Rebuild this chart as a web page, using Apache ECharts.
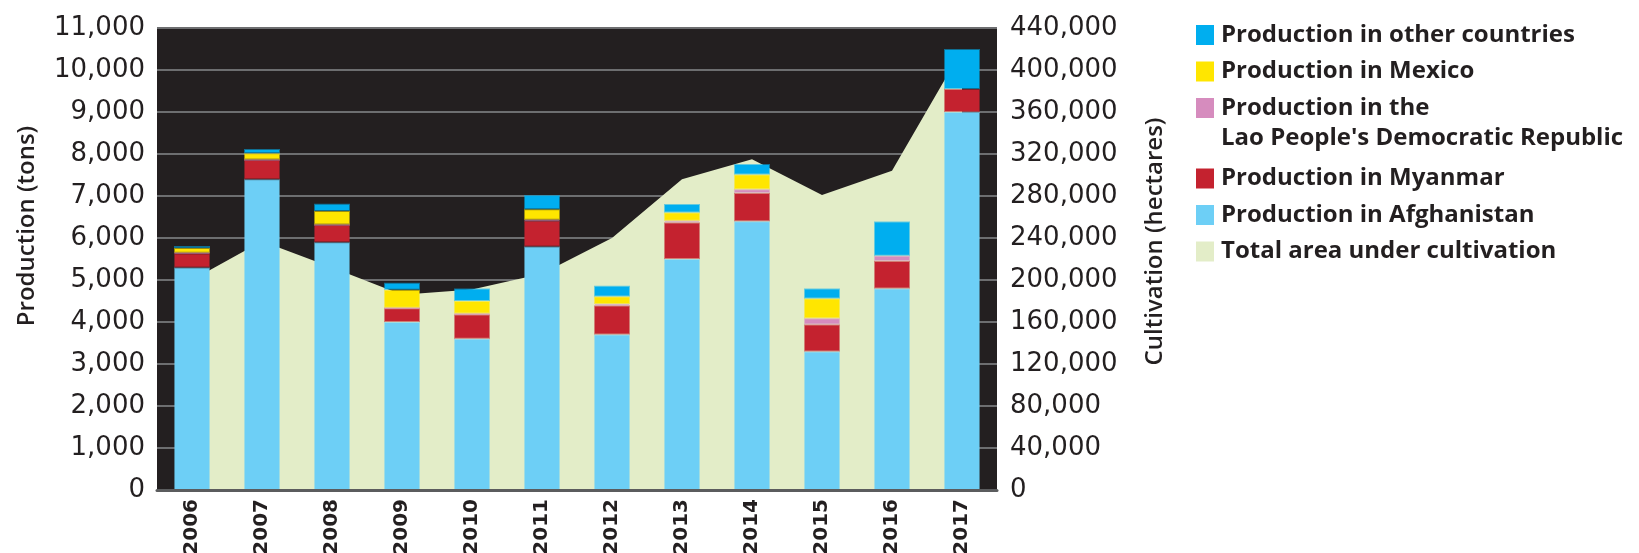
<!DOCTYPE html>
<html>
<head>
<meta charset="utf-8">
<title>Global opium production and cultivation, 2006-2017</title>
<script src="https://cdn.jsdelivr.net/npm/echarts@6/dist/echarts.min.js"></script>
<style>
  html, body { margin: 0; padding: 0; background: #ffffff; }
  #chart { width: 1639px; height: 553px; }
</style>
</head>
<body>
<div id="chart"></div>
<script>
// Years on the category axis
const years = ['2006', '2007', '2008', '2009', '2010', '2011', '2012', '2013', '2014', '2015', '2016', '2017'];

// Opium production by country (tons); null = no estimate available
const afghanistan    = [5300, 7400, 5900, 4000, 3600, 5800, 3700, 5500, 6400, 3300, 4800, 9000];
const myanmar        = [ 330,  460,  410,  330,  580,  610,  690,  870,  670,  640,  650,  550];
const laoPDR         = [  20,   10,   10,   10,   20,   25,   40,   40,   90,  150,  130, null];
const mexico         = [ 110,  150,  325,  425,  300,  250,  175,  200,  350,  470, null, null];
const otherCountries = [  50,  100,  170,  170,  300,  340,  260,  200,  250,  240,  810,  950];

// Total area under opium poppy cultivation (hectares)
const cultivationHa  = [200000, 237000, 212000, 186000, 191000, 206000, 240000, 296000, 315000, 281000, 304000, 419000];

// Axis ranges
const productionAxis  = { min: 0, max: 11000, interval: 1000 };
const cultivationAxis = { min: 0, max: 440000, interval: 40000 };

// Legend entries, top to bottom
const legendNames = [
  'Production in other countries',
  'Production in Mexico',
  'Production in the\nLao People\'s Democratic Republic',
  'Production in Myanmar',
  'Production in Afghanistan',
  'Total area under cultivation'
];

const COLORS = {
  afghanistan: '#6dcff6',
  myanmar: '#c4222f',
  lao: '#d68cbe',
  mexico: '#ffe600',
  other: '#00aeef',
  area: '#e3edc8',
  plot: '#231f20',
  grid: '#6d6e70',
  text: '#231f20'
};
const legendColors = [COLORS.other, COLORS.mexico, COLORS.lao, COLORS.myanmar, COLORS.afghanistan, COLORS.area];

function withAlpha(hex, a) {
  const n = parseInt(hex.slice(1), 16);
  return 'rgba(' + ((n >> 16) & 255) + ',' + ((n >> 8) & 255) + ',' + (n & 255) + ',' + a + ')';
}

function thousands(v) {
  return Number(v).toLocaleString('en-US');
}

function barSeries(name, data, color) {
  return {
    name: name,
    type: 'bar',
    stack: 'production',
    yAxisIndex: 0,
    barWidth: 36,
    data: data,
    z: 3,
    itemStyle: {
      color: color,
      borderColor: withAlpha(color, 0.55),
      borderWidth: 2
    },
    emphasis: { disabled: true }
  };
}

// Legend drawn as swatch + text pairs
const legendGraphics = [];
const LEG_X = 1196, LEG_Y0 = 35, LEG_STEP = 36.5, LEG_EXTRA = 34;
legendNames.forEach(function (name, i) {
  const cy = LEG_Y0 + i * LEG_STEP + (i > 2 ? LEG_EXTRA : 0);
  legendGraphics.push({
    type: 'rect',
    left: LEG_X, top: cy - 10,
    shape: { width: 18, height: 20 },
    style: { fill: legendColors[i] }
  });
  legendGraphics.push({
    type: 'text',
    x: LEG_X + 25, y: i === 2 ? cy - 15 : cy,
    style: {
      text: name,
      fill: COLORS.text,
      font: '700 24px "Open Sans", sans-serif',
      textVerticalAlign: i === 2 ? 'top' : 'middle',
      lineHeight: 30
    }
  });
});

const chart = echarts.init(document.getElementById('chart'), null, { renderer: 'canvas' });

chart.setOption({
  animation: false,
  backgroundColor: '#ffffff',
  grid: {
    left: 157, right: 642, top: 28, bottom: 63,
    show: true,
    backgroundColor: COLORS.plot,
    borderWidth: 0,
    outerBoundsMode: 'none'
  },
  xAxis: {
    type: 'category',
    data: years,
    boundaryGap: true,
    z: 6,
    axisLine: { show: true, lineStyle: { color: '#5b5c5e', width: 3 } },
    axisTick: { show: false },
    splitLine: { show: false },
    axisLabel: {
      interval: 0,
      rotate: 90,
      margin: 9,
      color: COLORS.text,
      fontFamily: 'DejaVu Sans',
      fontWeight: 'bold',
      fontSize: 20
    }
  },
  yAxis: [
    {
      type: 'value',
      position: 'left',
      min: productionAxis.min, max: productionAxis.max, interval: productionAxis.interval,
      name: 'Production (tons)',
      nameLocation: 'middle',
      nameRotate: 90,
      nameGap: 118,
      // left padding lifts the title above the axis midpoint
      nameTextStyle: { color: COLORS.text, fontFamily: 'Open Sans', fontWeight: 600, fontSize: 24, padding: [0, 0, 0, 66] },
      axisLine: { show: false },
      axisTick: { show: false },
      splitLine: { show: true, lineStyle: { color: COLORS.grid, width: 2 } },
      axisLabel: {
        margin: 12,
        color: COLORS.text,
        fontFamily: 'DejaVu Sans',
        fontSize: 26,
        formatter: thousands
      }
    },
    {
      type: 'value',
      position: 'right',
      min: cultivationAxis.min, max: cultivationAxis.max, interval: cultivationAxis.interval,
      name: 'Cultivation (hectares)',
      nameLocation: 'middle',
      nameRotate: 90,
      nameGap: 146,
      nameTextStyle: { color: COLORS.text, fontFamily: 'Open Sans', fontWeight: 600, fontSize: 24, padding: [0, 0, 0, 35] },
      axisLine: { show: false },
      axisTick: { show: false },
      splitLine: { show: false },
      axisLabel: {
        margin: 13,
        color: COLORS.text,
        fontFamily: 'DejaVu Sans',
        fontSize: 26,
        formatter: thousands
      }
    }
  ],
  series: [
    {
      name: 'Total area under cultivation',
      type: 'line',
      yAxisIndex: 1,
      data: cultivationHa,
      symbol: 'none',
      smooth: false,
      z: 1,
      silent: true,
      lineStyle: { width: 0 },
      areaStyle: { color: COLORS.area, opacity: 1 }
    },
    barSeries('Production in Afghanistan', afghanistan, COLORS.afghanistan),
    barSeries('Production in Myanmar', myanmar, COLORS.myanmar),
    barSeries('Production in the Lao People\'s Democratic Republic', laoPDR, COLORS.lao),
    barSeries('Production in Mexico', mexico, COLORS.mexico),
    barSeries('Production in other countries', otherCountries, COLORS.other)
  ],
  graphic: legendGraphics
});
</script>
</body>
</html>
